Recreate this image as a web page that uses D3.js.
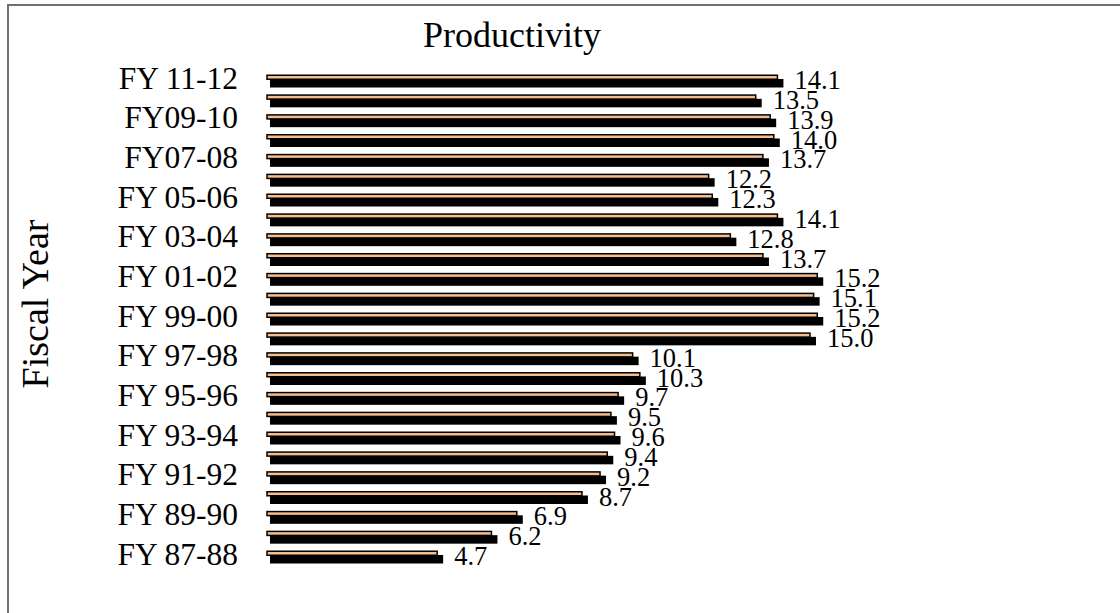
<!DOCTYPE html>
<html>
<head>
<meta charset="utf-8">
<script src="https://cdn.jsdelivr.net/npm/d3@7"></script>
<style>
  html, body { margin: 0; padding: 0; background: #fff; }
  svg { display: block; }
  text { font-family: "Liberation Serif", "Times New Roman", serif; fill: #000; }
</style>
</head>
<body>
<svg id="chart" width="1120" height="613"></svg>
<script>
// Fiscal years, oldest first
const categories = [
  "FY 87-88", "FY 88-89", "FY 89-90", "FY 90-91", "FY 91-92", "FY 92-93",
  "FY 93-94", "FY 94-95", "FY 95-96", "FY 96-97", "FY 97-98", "FY 98-99",
  "FY 99-00", "FY 00-01", "FY 01-02", "FY 02-03", "FY 03-04", "FY 04-05",
  "FY 05-06", "FY06-07", "FY07-08", "FY08-09", "FY09-10", "FY10-11", "FY 11-12"
];
// Productivity per fiscal year
const productivity = [
  4.7, 6.2, 6.9, 8.7, 9.2, 9.4, 9.6, 9.5, 9.7, 10.3, 10.1, 15.0,
  15.2, 15.1, 15.2, 13.7, 12.8, 14.1, 12.3, 12.2, 13.7, 14.0, 13.9, 13.5, 14.1
];
// Every other year carries a label on the axis
const tickLabels = [
  "FY 87-88", "FY 89-90", "FY 91-92", "FY 93-94", "FY 95-96", "FY 97-98",
  "FY 99-00", "FY 01-02", "FY 03-04", "FY 05-06", "FY07-08", "FY09-10", "FY 11-12"
];

const data = categories.map((c, i) => ({ year: c, value: productivity[i] }));

const svg = d3.select("#chart");

// Outer frame
svg.append("rect")
  .attr("x", 8).attr("y", 5)
  .attr("width", 1130).attr("height", 640)
  .attr("fill", "none")
  .attr("stroke", "#707070")
  .attr("stroke-width", 2);

// Title
svg.append("text")
  .attr("x", 512).attr("y", 47)
  .attr("text-anchor", "middle")
  .style("font-size", "36px")
  .text("Productivity");

// Axis title
svg.append("text")
  .attr("transform", "translate(48,304) rotate(-90)")
  .attr("text-anchor", "middle")
  .style("font-size", "38px")
  .text("Fiscal Year");

// Scales: newest year at the top
const x = d3.scaleLinear().domain([0, 20]).range([267, 991]);
const y = d3.scalePoint()
  .domain(categories.slice().reverse())
  .range([74.5, 550.5]);

const frontH = 4;      // thin coloured top face
const depthTop = 4.5;  // dark body below it
const depthH = 8.5;

const bars = svg.append("g").selectAll("g")
  .data(data)
  .join("g");

// Dark body of each bar
bars.append("rect")
  .attr("x", x(0) + 3)
  .attr("y", d => y(d.year) + depthTop)
  .attr("width", d => x(d.value) - x(0) + 3)
  .attr("height", depthH)
  .attr("fill", "#000");

// Coloured top face with outline
bars.append("rect")
  .attr("x", x(0))
  .attr("y", d => y(d.year) + 0.75)
  .attr("width", d => x(d.value) - x(0))
  .attr("height", frontH)
  .attr("fill", "#F8BD8A")
  .attr("stroke", "#000")
  .attr("stroke-width", 1.5);

// Value labels
bars.append("text")
  .attr("x", d => x(d.value) + 17)
  .attr("y", d => y(d.year) + 14.5)
  .style("font-size", "26.5px")
  .text(d => d.value.toFixed(1));

// Category axis (labels only)
const axis = d3.axisLeft(y)
  .tickValues(tickLabels)
  .tickSize(0)
  .tickPadding(0);

const axisG = svg.append("g")
  .attr("transform", "translate(238,0)")
  .call(axis);
axisG.select(".domain").remove();
axisG.selectAll(".tick text")
  .attr("dy", null)
  .attr("y", 13.5)
  .attr("x", 0)
  .attr("text-anchor", "end")
  .style("font-family", "\"Liberation Serif\", \"Times New Roman\", serif")
  .style("font-size", "31.5px")
  .attr("fill", "#000");
</script>
</body>
</html>
